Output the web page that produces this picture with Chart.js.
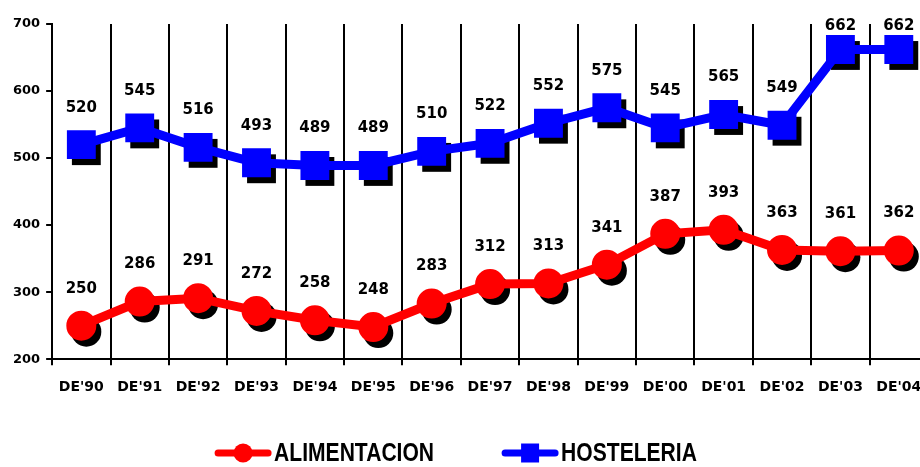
<!DOCTYPE html>
<html><head><meta charset="utf-8">
<script src="https://cdn.jsdelivr.net/npm/chart.js@4/dist/chart.umd.min.js"></script>
<style>
html,body{margin:0;padding:0;overflow:hidden;background:#fff;width:920px;height:467px;}
#wrap{position:relative;width:930px;height:467px;}
</style></head><body>
<div id="wrap"><canvas id="c" width="930" height="467"></canvas></div>
<script>
const categories = ["DE'90","DE'91","DE'92","DE'93","DE'94","DE'95","DE'96","DE'97","DE'98","DE'99","DE'00","DE'01","DE'02","DE'03","DE'04"];
const alimentacion = [250,286,291,272,258,248,283,312,313,341,387,393,363,361,362];
const hosteleria = [520,545,516,493,489,489,510,522,552,575,545,565,549,662,662];
const yTicks = [200,300,400,500,600,700];
const seriesNames = ["ALIMENTACION","HOSTELERIA"];
const seriesColors = ["#FF0000","#0000FF"];

const SHADOW_DX = 5, SHADOW_DY = 6;

const shadowPlugin = {
  id:'shadows',
  beforeDatasetsDraw(chart){
    const ctx = chart.ctx;
    ctx.save();
    ctx.fillStyle = '#000';
    chart.data.datasets.forEach((ds,i)=>{
      const meta = chart.getDatasetMeta(i);
      meta.data.forEach(pt=>{
        const x = pt.x+SHADOW_DX, y = pt.y+SHADOW_DY;
        ctx.beginPath();
        if (ds.pointStyle==='circle') ctx.arc(x,y,ds.pointRadius+1,0,Math.PI*2);
        else { const h = ds.pointRadius*Math.SQRT1_2+1; ctx.rect(x-h,y-h,2*h,2*h); }
        ctx.fill();
      });
    });
    ctx.restore();
  }
};

const labelPlugin = {
  id:'valueLabels',
  afterDatasetsDraw(chart){
    const ctx = chart.ctx;
    ctx.save();
    ctx.font = 'bold 15px "DejaVu Sans"';
    ctx.fillStyle = '#000';
    ctx.textAlign = 'center';
    ctx.textBaseline = 'middle';
    chart.data.datasets.forEach((ds,i)=>{
      const meta = chart.getDatasetMeta(i);
      meta.data.forEach((pt,j)=>{
        const y = Math.max(pt.y-37, chart.chartArea.top+2);
        ctx.fillText(String(ds.data[j]), pt.x, y);
      });
    });
    ctx.restore();
  }
};

const legendPlugin = {
  id:'customLegend',
  afterDraw(chart){
    const ctx = chart.ctx;
    ctx.save();
    const fontNarrow = 'bold 25px "Liberation Sans Narrow", "Arial Narrow"';
    ctx.font = fontNarrow;
    let w0 = ctx.measureText('ALIMENTACION').width;
    let scale = 1;
    if (w0 > 175 || w0 < 100) { ctx.font = 'bold 25px "Liberation Sans"'; w0 = ctx.measureText('ALIMENTACION').width; scale = 160/w0; }
    const symW = 56, gapText = 3, gapItem = 68;
    const items = chart.data.datasets.map(ds=>({label:ds.label,color:ds.borderColor,style:ds.pointStyle,tw:ctx.measureText(ds.label).width*scale}));
    let total = 0;
    items.forEach((it,k)=>{ total += symW+gapText+it.tw + (k<items.length-1?gapItem:0); });
    let x = 456 - total/2;
    const y = 453;
    items.forEach(it=>{
      ctx.strokeStyle = it.color; ctx.lineWidth = 7; ctx.lineCap='round';
      ctx.beginPath(); ctx.moveTo(x+3,y); ctx.lineTo(x+symW-3,y); ctx.stroke();
      ctx.fillStyle = it.color;
      ctx.beginPath();
      const cx = x+symW/2;
      if (it.style==='circle') ctx.arc(cx,y,9.5,0,Math.PI*2);
      else ctx.rect(cx-9,y-9.5,18,19);
      ctx.fill();
      ctx.fillStyle = '#000';
      ctx.textAlign='left'; ctx.textBaseline='middle';
      ctx.save();
      ctx.translate(x+symW+gapText, y+1);
      ctx.scale(scale,1);
      ctx.fillText(it.label,0,0);
      ctx.restore();
      x += symW+gapText+it.tw+gapItem;
    });
    ctx.restore();
  }
};

const tickFont = {family:'DejaVu Sans', size:13, weight:'bold'};

new Chart(document.getElementById('c'), {
  type:'line',
  data:{
    labels:categories,
    datasets:[
      {label:seriesNames[0], data:alimentacion, borderColor:seriesColors[0], backgroundColor:seriesColors[0],
       borderWidth:9, pointStyle:'circle', pointRadius:14, pointBorderWidth:2, pointBackgroundColor:seriesColors[0], pointBorderColor:seriesColors[0], tension:0, fill:false, clip:false},
      {label:seriesNames[1], data:hosteleria, borderColor:seriesColors[1], backgroundColor:seriesColors[1],
       borderWidth:9, pointStyle:'rect', pointRadius:19, pointBorderWidth:2, pointBackgroundColor:seriesColors[1], pointBorderColor:seriesColors[1], tension:0, fill:false, clip:false}
    ]
  },
  options:{
    responsive:false, animation:false, devicePixelRatio:1,
    layout:{autoPadding:false, padding:{left:7,right:2,top:24,bottom:57}},
    plugins:{legend:{display:false}, tooltip:{enabled:false}},
    scales:{
      x:{type:'category', offset:true,
         afterFit(scale){ scale.paddingLeft = 0; scale.paddingRight = 0; },
         grid:{offset:true, color:'#000', lineWidth:2, drawOnChartArea:true, drawTicks:true, tickLength:6, tickColor:'#000', tickWidth:2},
         border:{display:true, color:'#000', width:2},
         ticks:{color:'#000', font:{family:'DejaVu Sans', size:14, weight:'bold'}, padding:14, maxRotation:0, autoSkip:false}},
      y:{min:yTicks[0], max:yTicks[yTicks.length-1],
         afterBuildTicks(scale){ scale.ticks = yTicks.map(v=>({value:v})); },
         afterFit(scale){ scale.paddingTop = 0; scale.paddingBottom = 0; },
         grid:{drawOnChartArea:false, drawTicks:true, tickLength:6, color:'#000', lineWidth:2},
         border:{display:true, color:'#000', width:2},
         ticks:{color:'#000', font:tickFont, padding:6}}
    }
  },
  plugins:[shadowPlugin,labelPlugin,legendPlugin]
});
</script>
</body></html>
